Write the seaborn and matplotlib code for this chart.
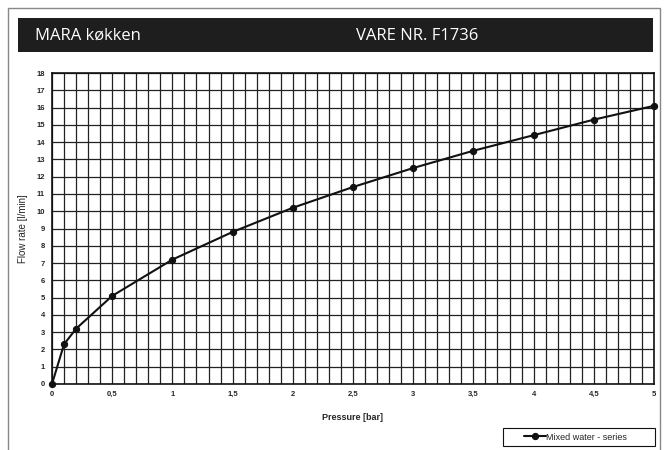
import numpy as np
import pandas as pd
import seaborn as sns
import matplotlib.pyplot as plt
from matplotlib.patches import Rectangle
from matplotlib.ticker import MultipleLocator, FuncFormatter

# ===== DATA =====
pressure = [0, 0.1, 0.2, 0.5, 1, 1.5, 2, 2.5, 3, 3.5, 4, 4.5, 5]
flow = [0, 2.3, 3.2, 5.1, 7.2, 8.8, 10.2, 11.4, 12.5, 13.5, 14.4, 15.3, 16.1]
series_name = "Mixed water - series"
title_left = "MARA køkken"
title_right = "VARE NR. F1736"

df = pd.DataFrame({"Pressure": pressure, "Flow": flow, "series": series_name})

sns.set_style("white")
plt.rcParams["font.family"] = ["Liberation Sans", "DejaVu Sans"]

W, H = 665, 450
fig = plt.figure(figsize=(W / 100, H / 100), dpi=100)

# outer frame and header band
fig.patches.append(Rectangle((8 / W, -0.05), 652 / W, 1 - 8 / H + 0.05,
                             transform=fig.transFigure, fill=False,
                             edgecolor="#888888", linewidth=1.0))
fig.patches.append(Rectangle((18 / W, 1 - 52 / H), 635 / W, 34 / H,
                             transform=fig.transFigure, facecolor="#1e1e1e",
                             edgecolor="none"))
fig.text(35 / W, 1 - 36 / H, title_left, color="white", fontsize=12,
         family=["Open Sans", "DejaVu Sans"], va="center", ha="left")
fig.text(356 / W, 1 - 36 / H, title_right, color="white", fontsize=12,
         family=["Open Sans", "DejaVu Sans"], va="center", ha="left")

ax = fig.add_axes([52 / W, 1 - 384 / H, 602 / W, 311 / H])
sns.lineplot(data=df, x="Pressure", y="Flow", hue="series", palette=["#111111"],
             marker="o", markersize=4.5, linewidth=1.5, markeredgecolor="#111111",
             ax=ax, zorder=5, clip_on=False)

ax.set_xlim(0, 5)
ax.set_ylim(0, 18)
ax.xaxis.set_major_locator(MultipleLocator(0.5))
ax.xaxis.set_minor_locator(MultipleLocator(0.1))
ax.yaxis.set_major_locator(MultipleLocator(1))
ax.xaxis.set_major_formatter(FuncFormatter(lambda v, p: f"{v:g}".replace(".", ",")))
ax.grid(True, which="both", axis="x", color="#222222", linewidth=0.9)
ax.grid(True, which="major", axis="y", color="#222222", linewidth=0.9)
ax.tick_params(axis="both", which="both", length=2, labelsize=5.5, pad=3)
for lab in ax.get_xticklabels() + ax.get_yticklabels():
    lab.set_fontweight("bold")
for s in ax.spines.values():
    s.set_color("#111111")
    s.set_linewidth(1.2)

ax.set_xlabel("Pressure [bar]", fontsize=6.5, fontweight="bold", labelpad=11)
ax.set_ylabel("Flow rate [l/min]", fontsize=7, labelpad=6)

# legend box drawn separately to get the wide frame of the original
fig.patches.append(Rectangle((503 / W, 1 - 446 / H), 152 / W, 18 / H,
                             transform=fig.transFigure, fill=False,
                             edgecolor="#111111", linewidth=0.8))
ax.legend(loc="center left", bbox_to_anchor=(524 / W, 1 - 437 / H),
          bbox_transform=fig.transFigure, fontsize=6.5, frameon=False,
          handlelength=2.4, handletextpad=0.0, borderpad=0, borderaxespad=0)
ax.get_legend().set_title(None)

fig.savefig("out.png", dpi=100)
